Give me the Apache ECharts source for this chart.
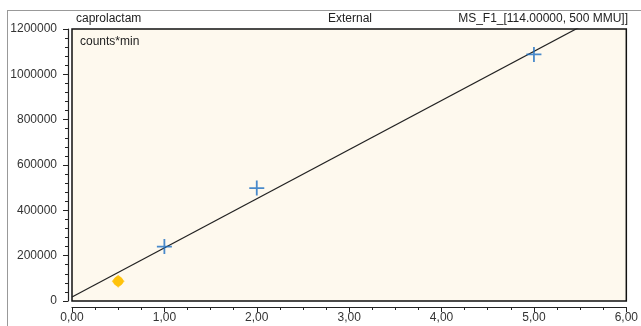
<!DOCTYPE html>
<html><head><meta charset="utf-8">
<script src="https://cdn.jsdelivr.net/npm/echarts@6/dist/echarts.min.js"></script>
<style>html,body{margin:0;padding:0;background:#fff}#c{width:641px;height:326px}</style>
</head><body><div id="c"></div>
<script>
var calX = [1.0, 2.0, 5.0];
var calY = [240000, 498000, 1088000];
var sampleX = [0.5];
var sampleY = [87000];
var fitX = [0, 6];
var fitY = [17500, 1318000];
var yTicks = [0, 200000, 400000, 600000, 800000, 1000000, 1200000];
var xTicks = [0, 1, 2, 3, 4, 5, 6];
var titleLeft = 'caprolactam', titleMid = 'External', titleRight = 'MS_F1_[114.00000, 500 MMU]]', unitLabel = 'counts*min';

var font = '"Liberation Sans", Arial, sans-serif';
var chart = echarts.init(document.getElementById('c'), null, {renderer: 'canvas'});
var crossPath = 'path://M4.4,0H5.6V4.4H10V5.6H5.6V10H4.4V5.6H0V4.4H4.4Z';
chart.setOption({
  animation: false,
  grid: {left: 72, right: 11, top: 29, bottom: 25, show: true, backgroundColor: '#FEF9EE', borderColor: '#111', borderWidth: 1.5},
  xAxis: {
    type: 'value', min: xTicks[0], max: xTicks[xTicks.length - 1], interval: 1, offset: 6,
    axisLine: {show: true, onZero: false, lineStyle: {color: '#222', width: 1.2}},
    axisTick: {show: true, length: 5, lineStyle: {color: '#222'}},
    minorTick: {show: true, splitNumber: 4, length: 3, lineStyle: {color: '#222'}},
    splitLine: {show: false},
    axisLabel: {color: '#333', fontFamily: font, fontSize: 12, margin: 5, formatter: function (v) { return v.toFixed(2).replace('.', ','); }}
  },
  yAxis: {
    type: 'value', min: yTicks[0], max: yTicks[yTicks.length - 1], interval: 200000, offset: 4,
    axisLine: {show: true, onZero: false, lineStyle: {color: '#222', width: 1.2}},
    axisTick: {show: true, length: 5, lineStyle: {color: '#222'}},
    minorTick: {show: true, splitNumber: 5, length: 3, lineStyle: {color: '#222'}},
    splitLine: {show: false},
    axisLabel: {color: '#333', fontFamily: font, fontSize: 12, margin: 11, formatter: function (v) { return String(v); }}
  },
  graphic: [
    {type: 'line', shape: {x1: 7, y1: 10.5, x2: 641, y2: 10.5}, style: {stroke: '#999', lineWidth: 1}, silent: true},
    {type: 'line', shape: {x1: 7.5, y1: 10, x2: 7.5, y2: 326}, style: {stroke: '#999', lineWidth: 1}, silent: true},
    {type: 'text', left: 76, top: 13, style: {text: titleLeft, font: '12px ' + font, fill: '#222'}},
    {type: 'text', left: 328, top: 13, style: {text: titleMid, font: '12px ' + font, fill: '#222'}},
    {type: 'text', right: 13, top: 13, style: {text: titleRight, font: '12px ' + font, fill: '#222'}},
    {type: 'text', left: 80, top: 36, style: {text: unitLabel, font: '12px ' + font, fill: '#222'}}
  ],
  series: [
    {type: 'line', data: fitX.map(function (x, i) { return [x, fitY[i]]; }), showSymbol: false, symbol: 'none', clip: true,
     lineStyle: {color: '#222', width: 1.2}, z: 2},
    {type: 'scatter', data: calX.map(function (x, i) { return [x, calY[i]]; }), symbol: crossPath, symbolSize: 15,
     itemStyle: {color: '#1C6EC2'}, z: 3},
    {type: 'scatter', data: sampleX.map(function (x, i) { return [x, sampleY[i]]; }), symbol: 'diamond', symbolSize: 13,
     itemStyle: {color: '#FFC20E'}, z: 3},
    {type: 'scatter', data: sampleX.map(function (x, i) { return [x, sampleY[i]]; }), symbol: 'circle', symbolSize: 10,
     itemStyle: {color: '#FFC000'}, z: 4}
  ]
});
</script></body></html>
